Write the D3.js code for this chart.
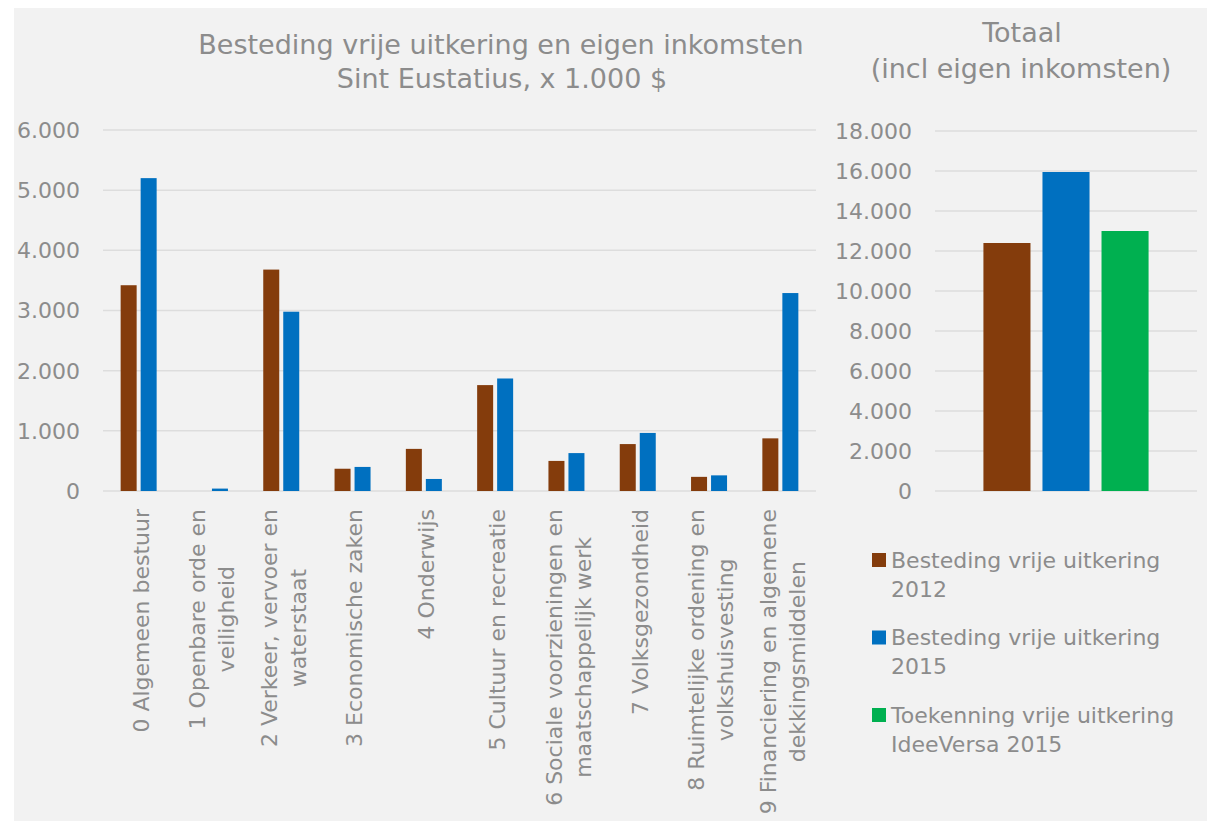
<!DOCTYPE html>
<html><head><meta charset="utf-8">
<script src="https://cdn.jsdelivr.net/npm/d3@7"></script>
<style>
html,body{margin:0;padding:0;background:#fff;}
svg{display:block;font-family:"DejaVu Sans",Verdana,sans-serif;}
</style></head>
<body>
<svg id="chart" width="1207" height="821"></svg>
<script>
// ---- data ----
const categories = [
  ["0 Algemeen bestuur"],
  ["1 Openbare orde en","veiligheid"],
  ["2 Verkeer, vervoer en","waterstaat"],
  ["3 Economische zaken"],
  ["4 Onderwijs"],
  ["5 Cultuur en recreatie"],
  ["6 Sociale voorzieningen en","maatschappelijk werk"],
  ["7 Volksgezondheid"],
  ["8 Ruimtelijke ordening en","volkshuisvesting"],
  ["9 Financiering en algemene","dekkingsmiddelen"]
];
const seriesNames = ["Besteding vrije uitkering 2012","Besteding vrije uitkering 2015"];
const values2012 = [3420, 0, 3680, 370, 700, 1760, 500, 780, 235, 875];
const values2015 = [5200, 40, 2980, 400, 200, 1870, 630, 965, 260, 3290];
const leftTicks = [0, 1000, 2000, 3000, 4000, 5000, 6000];

const totalNames = ["Besteding vrije uitkering 2012","Besteding vrije uitkering 2015","Toekenning vrije uitkering IdeeVersa 2015"];
const totalValues = [12400, 15950, 13000];
const rightTicks = [0, 2000, 4000, 6000, 8000, 10000, 12000, 14000, 16000, 18000];
const legendLines = [["Besteding vrije uitkering","2012"],["Besteding vrije uitkering","2015"],["Toekenning vrije uitkering","IdeeVersa 2015"]];

const colors = ["#843C0C", "#0070C0", "#00B050"];
const fmt = v => v === 0 ? "0" : d3.format(",")(v).replace(/,/g, ".");

const svg = d3.select("#chart");
svg.append("rect").attr("x", 14).attr("y", 8).attr("width", 1193).attr("height", 813).attr("fill", "#F2F2F2");

const textCol = "#8C8C8C";

// ---- titles ----
const t1 = svg.append("text").attr("text-anchor", "middle").attr("fill", textCol).style("font-size", "27px");
t1.append("tspan").attr("x", 501).attr("y", 54).text("Besteding vrije uitkering en eigen inkomsten");
t1.append("tspan").attr("x", 502).attr("y", 88).text("Sint Eustatius, x 1.000 $");
const t2 = svg.append("text").attr("text-anchor", "middle").attr("fill", textCol).style("font-size", "27px");
t2.append("tspan").attr("x", 1022).attr("y", 42).text("Totaal");
t2.append("tspan").attr("x", 1021).attr("y", 78).text("(incl eigen inkomsten)");

// ---- left chart ----
const y = d3.scaleLinear().domain([0, 6000]).range([491, 130]);
const x0 = d3.scaleBand().domain(d3.range(categories.length)).range([103, 816]).paddingInner(0).paddingOuter(0);
const x1 = d3.scaleBand().domain([0, 1]).range([0, x0.bandwidth()]).paddingInner(0.2).paddingOuter(0.8825);

const gl = svg.append("g");
gl.selectAll("line").data(leftTicks).join("line")
  .attr("x1", 103).attr("x2", 816)
  .attr("y1", d => y(d)).attr("y2", d => y(d))
  .attr("stroke", "#DDDDDD").attr("stroke-width", 1.5);
gl.selectAll("text").data(leftTicks).join("text")
  .attr("x", 80).attr("y", d => y(d)).attr("dy", "0.36em")
  .attr("text-anchor", "end").attr("fill", textCol).style("font-size", "22px")
  .text(fmt);

const series = [values2012, values2015];
series.forEach((vals, s) => {
  svg.append("g").selectAll("rect").data(vals).join("rect")
    .attr("x", (d, i) => x0(i) + x1(s))
    .attr("width", x1.bandwidth())
    .attr("y", d => y(d))
    .attr("height", d => y(0) - y(d))
    .attr("fill", colors[s]);
});

// category labels (rotated)
const lab = svg.append("g");
categories.forEach((lines, i) => {
  const cx = x0(i) + x0.bandwidth() / 2 + 2;
  const g = lab.append("g").attr("transform", `translate(${cx},509) rotate(-90)`);
  const txt = g.append("text").attr("fill", textCol).style("font-size", "22px").attr("text-anchor", "middle");
  const ts = lines.map((l, k) => txt.append("tspan").attr("y", (k - (lines.length - 1) / 2) * 29).attr("dy", "0.36em").text(l));
  const maxLen = d3.max(ts, t => t.node().getComputedTextLength());
  ts.forEach(t => t.attr("x", -maxLen / 2));
});

// ---- right chart ----
const yr = d3.scaleLinear().domain([0, 18000]).range([491, 131]);
const xr = d3.scaleBand().domain(d3.range(totalValues.length)).range([935, 1197]).paddingInner(0.203).paddingOuter(0.82);
const gr = svg.append("g");
gr.selectAll("line").data(rightTicks).join("line")
  .attr("x1", 935).attr("x2", 1197)
  .attr("y1", d => yr(d)).attr("y2", d => yr(d))
  .attr("stroke", "#DDDDDD").attr("stroke-width", 1.5);
gr.selectAll("text").data(rightTicks).join("text")
  .attr("x", 912).attr("y", d => yr(d)).attr("dy", "0.36em")
  .attr("text-anchor", "end").attr("fill", textCol).style("font-size", "22px")
  .text(fmt);
svg.append("g").selectAll("rect").data(totalValues).join("rect")
  .attr("x", (d, i) => xr(i)).attr("width", xr.bandwidth())
  .attr("y", d => yr(d)).attr("height", d => yr(0) - yr(d))
  .attr("fill", (d, i) => colors[i]);

// ---- legend ----
const lg = svg.append("g");
legendLines.forEach((lines, i) => {
  const cy = 560 + i * 77.5;
  lg.append("rect").attr("x", 872).attr("y", cy - 7).attr("width", 14).attr("height", 14).attr("fill", colors[i]);
  const txt = lg.append("text").attr("fill", textCol).style("font-size", "22px");
  lines.forEach((l, k) => txt.append("tspan").attr("x", 891).attr("y", cy + k * 29).attr("dy", "0.36em").text(l));
});
</script>
</body></html>
